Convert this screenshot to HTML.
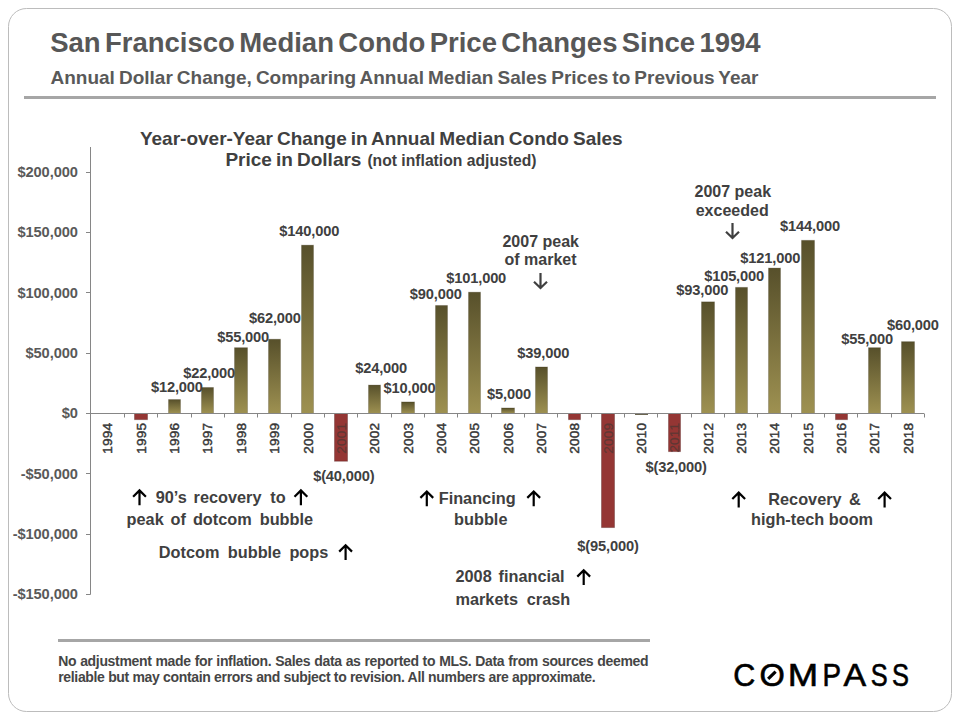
<!DOCTYPE html>
<html><head><meta charset="utf-8"><title>San Francisco Median Condo Price Changes Since 1994</title>
<style>
html,body{margin:0;padding:0;background:#fff;}
body{width:960px;height:720px;overflow:hidden;position:relative;}
svg{position:absolute;left:0;top:0;}
text{font-family:"Liberation Sans",Arial,sans-serif;}
.b{font-weight:bold;}
.dl{font-weight:bold;font-size:14.67px;letter-spacing:-0.16px;fill:#404040;text-anchor:middle;}
.yl{font-weight:bold;font-size:14.67px;letter-spacing:-0.1px;fill:#595959;text-anchor:end;}
.xl{font-size:13.6px;letter-spacing:0.12px;fill:#383838;stroke:#383838;stroke-width:0.45px;}
.an{font-weight:bold;font-size:16.3px;fill:#404040;}
</style></head><body>
<svg width="960" height="720" viewBox="0 0 960 720">
<defs>
<linearGradient id="g" x1="0" y1="0" x2="0" y2="1">
<stop offset="0" stop-color="#57502b"/>
<stop offset="1" stop-color="#9e9151"/>
</linearGradient>
</defs>
<rect x="8.5" y="8.5" width="943" height="703" rx="18" ry="18" fill="#fff" stroke="#bcbcbc" stroke-width="1"/>
<text x="50.2" y="51.9" class="b" font-size="27.5" word-spacing="-3.3" fill="#575757">San Francisco Median Condo Price Changes Since 1994</text>
<text x="50.5" y="83.5" class="b" font-size="19" word-spacing="-1.21" fill="#595959">Annual Dollar Change, Comparing Annual Median Sales Prices to Previous Year</text>
<rect x="24" y="96" width="912" height="3" fill="#a6a6a6"/>
<text x="381.3" y="144.5" class="b" font-size="19" word-spacing="-1.25" fill="#404040" text-anchor="middle">Year-over-Year Change in Annual Median Condo Sales</text>
<text x="225.4" y="165.8" class="b" fill="#404040" font-size="19" word-spacing="-1.15">Price in Dollars <tspan x="367.4" font-size="15.7" word-spacing="0">(not inflation adjusted)</tspan></text>

<g stroke="#868686" stroke-width="1" fill="none">
<path d="M90.5 147V594.5"/>
<path d="M86 172.5H90.5"/>
<path d="M86 232.5H90.5"/>
<path d="M86 292.5H90.5"/>
<path d="M86 353.5H90.5"/>
<path d="M86 413.5H90.5"/>
<path d="M86 473.5H90.5"/>
<path d="M86 534.5H90.5"/>
<path d="M86 594.5H90.5"/>
</g>
<text x="77.8" y="177.1" class="yl">$200,000</text>
<text x="77.8" y="237.4" class="yl">$150,000</text>
<text x="77.8" y="297.7" class="yl">$100,000</text>
<text x="77.8" y="358.0" class="yl">$50,000</text>
<text x="77.8" y="418.3" class="yl">$0</text>
<text x="77.8" y="478.6" class="yl">-$50,000</text>
<text x="77.8" y="538.9" class="yl">-$100,000</text>
<text x="77.8" y="599.2" class="yl">-$150,000</text>
<g stroke="rgba(40,30,10,0.22)" stroke-width="1">
<rect x="134.5" y="413.5" width="13" height="6.13" fill="#943634" stroke="rgba(60,10,10,0.3)"/>
<rect x="168.5" y="399.53" width="12" height="13.97" fill="url(#g)"/>
<rect x="201.5" y="387.47" width="12" height="26.03" fill="url(#g)"/>
<rect x="234.5" y="347.67" width="13" height="65.83" fill="url(#g)"/>
<rect x="268.5" y="339.23" width="12" height="74.27" fill="url(#g)"/>
<rect x="301.5" y="245.16" width="12" height="168.34" fill="url(#g)"/>
<rect x="334.5" y="413.5" width="13" height="47.74" fill="#943634" stroke="rgba(60,10,10,0.3)"/>
<rect x="368.5" y="385.06" width="12" height="28.44" fill="url(#g)"/>
<rect x="401.5" y="401.94" width="13" height="11.56" fill="url(#g)"/>
<rect x="435.5" y="305.46" width="12" height="108.04" fill="url(#g)"/>
<rect x="468.5" y="292.19" width="12" height="121.31" fill="url(#g)"/>
<rect x="501.5" y="407.97" width="13" height="5.53" fill="url(#g)"/>
<rect x="535.5" y="366.97" width="12" height="46.53" fill="url(#g)"/>
<rect x="568.5" y="413.5" width="12" height="6.13" fill="#943634" stroke="rgba(60,10,10,0.3)"/>
<rect x="601.5" y="413.5" width="13" height="114.07" fill="#943634" stroke="rgba(60,10,10,0.3)"/>
<rect x="635" y="414" width="13" height="1" fill="#6b6550" stroke="none"/>
<rect x="668.5" y="413.5" width="12" height="38.09" fill="#943634" stroke="rgba(60,10,10,0.3)"/>
<rect x="701.5" y="301.84" width="13" height="111.66" fill="url(#g)"/>
<rect x="735.5" y="287.37" width="12" height="126.13" fill="url(#g)"/>
<rect x="768.5" y="268.07" width="12" height="145.43" fill="url(#g)"/>
<rect x="801.5" y="240.34" width="13" height="173.16" fill="url(#g)"/>
<rect x="835.5" y="413.5" width="12" height="6.13" fill="#943634" stroke="rgba(60,10,10,0.3)"/>
<rect x="868.5" y="347.67" width="12" height="65.83" fill="url(#g)"/>
<rect x="901.5" y="341.64" width="13" height="71.86" fill="url(#g)"/>
</g>
<g stroke="#868686" stroke-width="1" fill="none">
<path d="M90.5 413.5H924.0"/>
<path d="M90.5 413.5V417.5"/>
<path d="M124.5 413.5V417.5"/>
<path d="M157.5 413.5V417.5"/>
<path d="M191.5 413.5V417.5"/>
<path d="M224.5 413.5V417.5"/>
<path d="M257.5 413.5V417.5"/>
<path d="M291.5 413.5V417.5"/>
<path d="M324.5 413.5V417.5"/>
<path d="M357.5 413.5V417.5"/>
<path d="M391.5 413.5V417.5"/>
<path d="M424.5 413.5V417.5"/>
<path d="M457.5 413.5V417.5"/>
<path d="M491.5 413.5V417.5"/>
<path d="M524.5 413.5V417.5"/>
<path d="M557.5 413.5V417.5"/>
<path d="M591.5 413.5V417.5"/>
<path d="M624.5 413.5V417.5"/>
<path d="M657.5 413.5V417.5"/>
<path d="M691.5 413.5V417.5"/>
<path d="M724.5 413.5V417.5"/>
<path d="M757.5 413.5V417.5"/>
<path d="M791.5 413.5V417.5"/>
<path d="M824.5 413.5V417.5"/>
<path d="M857.5 413.5V417.5"/>
<path d="M891.5 413.5V417.5"/>
<path d="M924.5 413.5V417.5"/>
</g>
<text class="xl" transform="translate(112.47 422.9) rotate(-90)" text-anchor="end">1994</text>
<text class="xl" transform="translate(145.81 422.9) rotate(-90)" text-anchor="end">1995</text>
<text class="xl" transform="translate(179.15 422.9) rotate(-90)" text-anchor="end">1996</text>
<text class="xl" transform="translate(212.49 422.9) rotate(-90)" text-anchor="end">1997</text>
<text class="xl" transform="translate(245.83 422.9) rotate(-90)" text-anchor="end">1998</text>
<text class="xl" transform="translate(279.17 422.9) rotate(-90)" text-anchor="end">1999</text>
<text class="xl" transform="translate(312.51 422.9) rotate(-90)" text-anchor="end">2000</text>
<text class="xl" style="fill:#5e3633;stroke:#5e3633;stroke-width:0.2px" transform="translate(345.85 422.9) rotate(-90)" text-anchor="end">2001</text>
<text class="xl" transform="translate(379.19 422.9) rotate(-90)" text-anchor="end">2002</text>
<text class="xl" transform="translate(412.53 422.9) rotate(-90)" text-anchor="end">2003</text>
<text class="xl" transform="translate(445.87 422.9) rotate(-90)" text-anchor="end">2004</text>
<text class="xl" transform="translate(479.21 422.9) rotate(-90)" text-anchor="end">2005</text>
<text class="xl" transform="translate(512.55 422.9) rotate(-90)" text-anchor="end">2006</text>
<text class="xl" transform="translate(545.89 422.9) rotate(-90)" text-anchor="end">2007</text>
<text class="xl" transform="translate(579.23 422.9) rotate(-90)" text-anchor="end">2008</text>
<text class="xl" style="fill:#5e3633;stroke:#5e3633;stroke-width:0.2px" transform="translate(612.57 422.9) rotate(-90)" text-anchor="end">2009</text>
<text class="xl" transform="translate(645.91 422.9) rotate(-90)" text-anchor="end">2010</text>
<text class="xl" style="fill:#5e3633;stroke:#5e3633;stroke-width:0.2px" transform="translate(679.25 422.9) rotate(-90)" text-anchor="end">2011</text>
<text class="xl" transform="translate(712.59 422.9) rotate(-90)" text-anchor="end">2012</text>
<text class="xl" transform="translate(745.93 422.9) rotate(-90)" text-anchor="end">2013</text>
<text class="xl" transform="translate(779.27 422.9) rotate(-90)" text-anchor="end">2014</text>
<text class="xl" transform="translate(812.61 422.9) rotate(-90)" text-anchor="end">2015</text>
<text class="xl" transform="translate(845.95 422.9) rotate(-90)" text-anchor="end">2016</text>
<text class="xl" transform="translate(879.29 422.9) rotate(-90)" text-anchor="end">2017</text>
<text class="xl" transform="translate(912.63 422.9) rotate(-90)" text-anchor="end">2018</text>
<text x="176.9" y="392" class="dl">$12,000</text>
<text x="209.1" y="377.8" class="dl">$22,000</text>
<text x="243.1" y="342" class="dl">$55,000</text>
<text x="274.9" y="323.3" class="dl">$62,000</text>
<text x="309.25" y="236.2" class="dl">$140,000</text>
<text x="343.8" y="481.4" class="dl">$(40,000)</text>
<text x="381.1" y="372.7" class="dl">$24,000</text>
<text x="409.5" y="392.5" class="dl">$10,000</text>
<text x="435.7" y="298.7" class="dl">$90,000</text>
<text x="476.2" y="283" class="dl">$101,000</text>
<text x="509" y="398.8" class="dl">$5,000</text>
<text x="543.2" y="357.5" class="dl">$39,000</text>
<text x="608" y="550.8" class="dl">$(95,000)</text>
<text x="676.1" y="472.2" class="dl">$(32,000)</text>
<text x="702.3" y="295.2" class="dl">$93,000</text>
<text x="734.1" y="281.1" class="dl">$105,000</text>
<text x="770.3" y="262.7" class="dl">$121,000</text>
<text x="810" y="231" class="dl">$144,000</text>
<text x="867.1" y="343.75" class="dl">$55,000</text>
<text x="912.9" y="329.5" class="dl">$60,000</text>
<g class="an">
<text x="155.7" y="503.3">90’s</text>
<text x="193.6" y="503.3">recovery</text>
<text x="270.3" y="503.3">to</text>
<text x="126.6" y="524.6">peak</text>
<text x="170.6" y="524.6">of</text>
<text x="192.9" y="524.6">dotcom</text>
<text x="259.7" y="524.6">bubble</text>
<text x="158.8" y="557.6">Dotcom</text>
<text x="227.8" y="557.6">bubble</text>
<text x="289.4" y="557.6">pops</text>
<text x="438.7" y="503.5">Financing</text>
<text x="454.1" y="524.5">bubble</text>
<text x="455.5" y="582.3">2008</text>
<text x="498.5" y="582.3">financial</text>
<text x="455.5" y="604.7">markets</text>
<text x="526.8" y="604.7">crash</text>
<text x="768.3" y="504.5">Recovery</text>
<text x="848.9" y="504.5">&amp;</text>
<text x="751.0" y="524.7">high-tech boom</text>
<text x="540.7" y="247" text-anchor="middle" style="font-size:16px">2007 peak</text>
<text x="540.5" y="265.3" text-anchor="middle" style="font-size:16px">of market</text>
<text x="732.8" y="197.1" text-anchor="middle" style="font-size:16px">2007 peak</text>
<text x="732.2" y="215.5" text-anchor="middle" style="font-size:16px">exceeded</text>
</g>
<g fill="none" stroke="#000" stroke-width="2.2">
<path d="M133.1 496.8L139.5 490.4L145.9 496.8M139.5 490.6V505.2"/>
<path d="M294.5 496.8L300.9 490.4L307.3 496.8M300.9 490.6V505.2"/>
<path d="M339.2 551.6L345.6 545.2L352.0 551.6M345.6 545.4V560.0"/>
<path d="M420.4 497.9L426.8 491.5L433.2 497.9M426.8 491.7V506.3"/>
<path d="M527.3 497.9L533.7 491.5L540.1 497.9M533.7 491.7V506.3"/>
<path d="M577.3 576.6L583.7 570.2L590.1 576.6M583.7 570.4V585.0"/>
<path d="M732.3 499.0L738.7 492.6L745.1 499.0M738.7 492.8V507.4"/>
<path d="M878.2 499.0L884.6 492.6L891.0 499.0M884.6 492.8V507.4"/>
</g>
<g fill="none" stroke="#404040" stroke-width="2.2">
<path d="M534.0 281.8L540.5 288.0L547.0 281.8M540.5 287.8V273.0"/>
<path d="M726.0 231.8L732.5 238.0L739.0 231.8M732.5 237.8V223.0"/>
</g>
<rect x="58" y="639" width="592" height="3" fill="#a6a6a6"/>
<text x="58.2" y="665.8" class="b" font-size="14" fill="#454545" letter-spacing="-0.33" word-spacing="0.4">No adjustment made for inflation. Sales data as reported to MLS. Data from sources deemed</text>
<text x="58.2" y="681.6" class="b" font-size="14" fill="#454545" letter-spacing="-0.33">reliable but may contain errors and subject to revision. All numbers are approximate.</text>
<text y="686" font-size="31" fill="#000" stroke="#000" stroke-width="0.6"><tspan x="733.15" textLength="22.01" lengthAdjust="spacingAndGlyphs">C</tspan><tspan x="759.46" textLength="25.30" lengthAdjust="spacingAndGlyphs">O</tspan><tspan x="787.71" textLength="30.38" lengthAdjust="spacingAndGlyphs">M</tspan><tspan x="822.42" textLength="18.54" lengthAdjust="spacingAndGlyphs">P</tspan><tspan x="843.53" textLength="22.64" lengthAdjust="spacingAndGlyphs">A</tspan><tspan x="870.65" textLength="16.92" lengthAdjust="spacingAndGlyphs">S</tspan><tspan x="891.95" textLength="16.92" lengthAdjust="spacingAndGlyphs">S</tspan></text>
<path d="M768.2 678.8L775.6 671.6" stroke="#000" stroke-width="3.2"/>

</svg></body></html>
